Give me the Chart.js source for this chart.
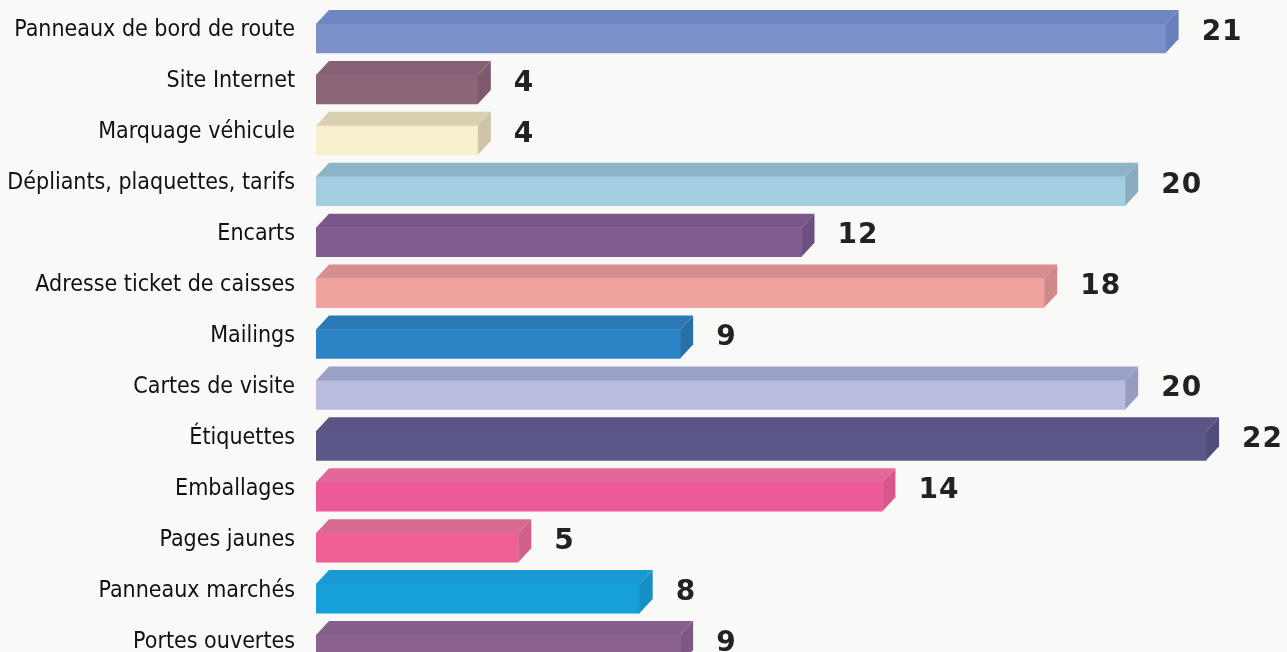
<!DOCTYPE html>
<html>
<head>
<meta charset="utf-8">
<script src="https://cdn.jsdelivr.net/npm/chart.js@4"></script>
<style>
  html, body { margin: 0; padding: 0; overflow: hidden; background: #f9f9f7; }
  #wrap { position: relative; width: 1287px; height: 688px; }
</style>
</head>
<body>
<div id="wrap"><canvas id="grafico"></canvas></div>
<script>
const categories = [
  'Panneaux de bord de route', 'Site Internet', 'Marquage véhicule',
  'Dépliants, plaquettes, tarifs', 'Encarts', 'Adresse ticket de caisses',
  'Mailings', 'Cartes de visite', 'Étiquettes', 'Emballages',
  'Pages jaunes', 'Panneaux marchés', 'Portes ouvertes'
];
const values = [21, 4, 4, 20, 12, 18, 9, 20, 22, 14, 5, 8, 9];

// couleurs : face avant, dessus, côté
const frontColors = ['#7b90c9', '#8b6679', '#f7f0cf', '#a3cde0', '#7e5b91', '#f0a29f', '#2b84c6',
  '#b9bcdc', '#5b5789', '#ec5a98', '#ee6096', '#179fd9', '#8b6290'];
const topColors = ['#6f86c2', '#876276', '#d9cfb1', '#8db3c6', '#7a568b', '#d78e8e', '#2a78b5',
  '#9aa2c8', '#5a5585', '#e2689a', '#d86a92', '#1a9ad3', '#86608c'];
const sideColors = ['#6a80bc', '#7d5a6d', '#cfc4a5', '#88adc0', '#6f4f82', '#d08888', '#2670ab',
  '#949cc2', '#524e7c', '#d9568d', '#d0628a', '#168ec6', '#7d5884'];

const DX = 13, DY = 14;

const barres3d = {
  id: 'barres3d',
  afterDatasetsDraw(chart) {
    const ctx = chart.ctx;
    const meta = chart.getDatasetMeta(0);
    ctx.save();
    meta.data.forEach(function(bar, i) {
      const p = bar.getProps(['x', 'y', 'base', 'height'], true);
      const top = p.y - p.height / 2, bot = p.y + p.height / 2;
      // dessus
      ctx.fillStyle = topColors[i];
      ctx.beginPath();
      ctx.moveTo(p.base, top);
      ctx.lineTo(p.base + DX, top - DY);
      ctx.lineTo(p.x + DX, top - DY);
      ctx.lineTo(p.x, top);
      ctx.closePath();
      ctx.fill();
      // côté
      ctx.fillStyle = sideColors[i];
      ctx.beginPath();
      ctx.moveTo(p.x, top);
      ctx.lineTo(p.x + DX, top - DY);
      ctx.lineTo(p.x + DX, bot - DY);
      ctx.lineTo(p.x, bot);
      ctx.closePath();
      ctx.fill();
      // valeur
      ctx.fillStyle = '#222';
      ctx.font = 'bold 28px "DejaVu Sans"';
      ctx.letterSpacing = '1px';
      ctx.textBaseline = 'middle';
      ctx.textAlign = 'left';
      ctx.fillText(String(values[i]), p.x + 36, p.y - DY / 2 + 1);
    });
    ctx.restore();
  }
};

new Chart(document.getElementById('grafico').getContext('2d'), {
  type: 'bar',
  data: {
    labels: categories,
    datasets: [{
      data: values,
      backgroundColor: frontColors,
      borderWidth: 0,
      barThickness: 29
    }]
  },
  options: {
    indexAxis: 'y',
    responsive: true,
    maintainAspectRatio: false,
    animation: false,
    layout: { padding: 0 },
    scales: {
      x: { display: false, min: 0, max: 24 },
      y: {
        grid: { display: false, drawTicks: true, tickLength: 21 },
        border: { display: false },
        afterFit: function(scale) { scale.width = 316; },
        ticks: {
          padding: 0,
          labelOffset: -8,
          color: '#111',
          font: { family: '"Liberation Sans Narrow", "DejaVu Sans Condensed", sans-serif', size: 23, lineHeight: 1.13 }
        }
      }
    },
    plugins: {
      legend: { display: false },
      tooltip: { enabled: false }
    }
  },
  plugins: [barres3d]
});
</script>
</body>
</html>
